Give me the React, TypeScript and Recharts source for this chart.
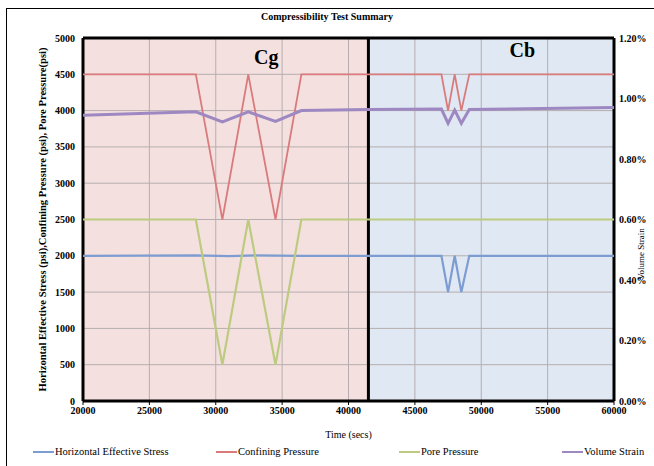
import React from 'react';
import {
  ComposedChart,
  Line,
  XAxis,
  YAxis,
  ReferenceArea,
  ReferenceLine,
  ReferenceDot,
} from 'recharts';

const xTicks = [20000, 25000, 30000, 35000, 40000, 45000, 50000, 55000, 60000];
const leftTicks = [0, 500, 1000, 1500, 2000, 2500, 3000, 3500, 4000, 4500, 5000];
const rightTicks = [0, 0.002, 0.004, 0.006, 0.008, 0.01, 0.012];

const hesT = [20000, 28500, 31000, 33000, 36500, 47000, 47500, 48000, 48500, 49100, 60000];
const hesV = [2000, 2005, 1995, 2005, 2000, 2000, 1500, 2000, 1500, 2000, 2000];

const confT = [20000, 28500, 30500, 32450, 34500, 36450, 47000, 47500, 48000, 48500, 49100, 60000];
const confV = [4500, 4500, 2500, 4500, 2500, 4500, 4500, 4000, 4500, 4000, 4500, 4500];

const poreT = [20000, 28500, 30500, 32450, 34500, 36450, 60000];
const poreV = [2500, 2500, 500, 2500, 500, 2500, 2500];

const volT = [20000, 28500, 30500, 32450, 34500, 36450, 41500, 47000, 47500, 48000, 48500, 49100, 60000];
const volV = [0.00945, 0.00956, 0.00923, 0.00956, 0.00924, 0.0096, 0.00964, 0.00965, 0.00918, 0.00962, 0.00918, 0.00964, 0.0097];

const regionCg = [20000, 41500];
const regionCb = [41500, 60000];
const borderX = [20000, 41500, 60000];
const borderY = [0, 5000];

const zip = (ts: number[], vs: number[]) => ts.map((t, i) => ({ t, v: vs[i] }));
const hesData = zip(hesT, hesV);
const confData = zip(confT, confV);
const poreData = zip(poreT, poreV);
const volData = zip(volT, volV);

const C_HES = '#7d9dd2';
const C_CONF = '#d97b7c';
const C_PORE = '#bccb7f';
const C_VOL = '#9e88c2';
const C_GRID = '#b6aeae';

const FONT = '"Liberation Serif", "Times New Roman", serif';
const tickStyle = { fontFamily: FONT, fontSize: 10, fontWeight: 700, fill: '#000' };

const legendItems = [
  { name: 'Horizontal Effective Stress', color: C_HES, x: 33 },
  { name: 'Confining Pressure', color: C_CONF, x: 216 },
  { name: 'Pore Pressure', color: C_PORE, x: 399 },
  { name: 'Volume Strain', color: C_VOL, x: 562 },
];

export default function App() {
  return (
    <div style={{ position: 'absolute', left: 0, top: 0, width: 654, height: 466, background: '#fff', overflow: 'hidden', fontFamily: FONT }}>
      <div style={{ position: 'absolute', left: 6, top: 8, width: 660, height: 470, border: '1px solid #000', boxSizing: 'border-box' }} />
      <div style={{ position: 'absolute', left: 0, top: 11, width: 654, textAlign: 'center', fontSize: 10, fontWeight: 700, color: '#000' }}>
        Compressibility Test Summary
      </div>
      <ComposedChart width={654} height={466} margin={{ top: 38, right: 0, bottom: 0, left: 0 }} style={{ position: 'absolute', left: 0, top: 0 }}>
        <ReferenceArea yAxisId="left" x1={regionCg[0]} x2={regionCg[1]} y1={0} y2={5000} fill="#f5e0e0" fillOpacity={1} stroke="none" />
        <ReferenceArea yAxisId="left" x1={regionCb[0]} x2={regionCb[1]} y1={0} y2={5000} fill="#e0e8f3" fillOpacity={1} stroke="none" />
        {xTicks.map((t) => (
          <ReferenceLine key={'vx' + t} yAxisId="left" x={t} stroke={C_GRID} strokeWidth={1} />
        ))}
        {leftTicks.map((v) => (
          <ReferenceLine key={'hy' + v} yAxisId="left" y={v} stroke={C_GRID} strokeWidth={1} />
        ))}
        {borderX.map((t) => (
          <ReferenceLine key={'bx' + t} yAxisId="left" x={t} stroke="#000" strokeWidth={3} ifOverflow="visible" />
        ))}
        {borderY.map((v) => (
          <ReferenceLine key={'by' + v} yAxisId="left" y={v} stroke="#000" strokeWidth={3} ifOverflow="visible" />
        ))}
        <XAxis
          dataKey="t"
          type="number"
          domain={[20000, 60000]}
          ticks={xTicks}
          allowDataOverflow
          height={65}
          axisLine={false}
          tickLine={{ stroke: '#000' }}
          tickSize={4}
          tickMargin={2}
          tick={tickStyle}
          label={{ value: 'Time (secs)', position: 'insideTop', offset: 30, style: { fontFamily: FONT, fontSize: 10, fill: '#000' } }}
        />
        <YAxis
          yAxisId="left"
          orientation="left"
          domain={[0, 5000]}
          ticks={leftTicks}
          width={83}
          axisLine={false}
          tickLine={false}
          tickSize={5}
          tickMargin={3}
          tick={tickStyle}
          label={{
            value: 'Horizontal Effective Stress (psi),Confining Pressure (psi), Pore Pressure(psi)',
            angle: -90,
            position: 'insideLeft',
            offset: 42,
            style: { fontFamily: FONT, fontSize: 10.6, fontWeight: 700, fill: '#000', textAnchor: 'middle' },
          }}
        />
        <YAxis
          yAxisId="right"
          orientation="right"
          domain={[0, 0.012]}
          ticks={rightTicks}
          width={40}
          axisLine={false}
          tickLine={false}
          tickSize={3}
          tickMargin={2}
          tick={tickStyle}
          tickFormatter={(v: number) => (v * 100).toFixed(2) + '%'}
        />
        <Line yAxisId="left" data={hesData} dataKey="v" stroke={C_HES} strokeWidth={2.2} dot={false} isAnimationActive={false} type="linear" />
        <Line yAxisId="left" data={confData} dataKey="v" stroke={C_CONF} strokeWidth={1.8} dot={false} isAnimationActive={false} type="linear" />
        <Line yAxisId="left" data={poreData} dataKey="v" stroke={C_PORE} strokeWidth={2.2} dot={false} isAnimationActive={false} type="linear" />
        <Line yAxisId="right" data={volData} dataKey="v" stroke={C_VOL} strokeWidth={3} dot={false} isAnimationActive={false} type="linear" />
        <ReferenceDot yAxisId="left" x={33800} y={4740} r={0} fill="none" stroke="none"
          label={{ value: 'Cg', position: 'center', style: { fontFamily: FONT, fontSize: 20, fontWeight: 700, fill: '#000' } }} />
        <ReferenceDot yAxisId="left" x={53100} y={4835} r={0} fill="none" stroke="none"
          label={{ value: 'Cb', position: 'center', style: { fontFamily: FONT, fontSize: 20, fontWeight: 700, fill: '#000' } }} />
      </ComposedChart>
      <div style={{ position: 'absolute', left: 641, top: 254, width: 0, height: 0 }}>
        <div style={{ position: 'absolute', left: 0, top: 0, transform: 'translate(-50%, -50%) rotate(-90deg)', fontSize: 9, color: '#000', whiteSpace: 'nowrap', lineHeight: '10px' }}>
          Volume Strain
        </div>
      </div>
      {legendItems.map((it) => (
        <div key={it.name} style={{ position: 'absolute', left: it.x, top: 446, display: 'flex', alignItems: 'center', fontSize: 10.5, color: '#000', whiteSpace: 'nowrap' }}>
          <span style={{ display: 'inline-block', width: 21, height: 2, background: it.color, marginRight: 1 }} />
          <span>{it.name}</span>
        </div>
      ))}
    </div>
  );
}
